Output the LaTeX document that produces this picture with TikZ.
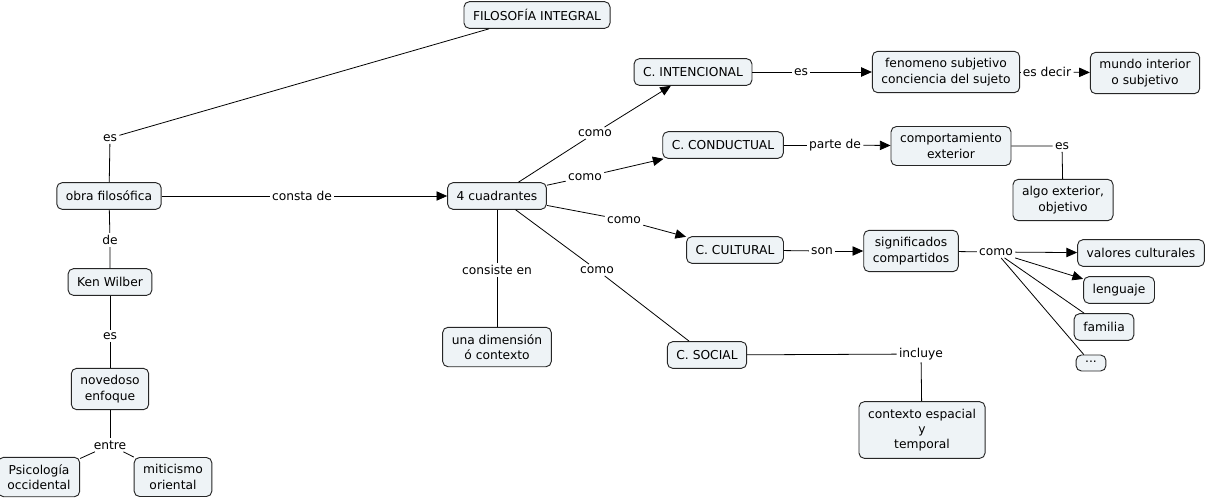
\documentclass[tikz,border=0pt]{standalone}
\usepackage{fontspec}
\setmainfont{DejaVu Sans}
\usetikzlibrary{arrows.meta}
\definecolor{conceptfill}{RGB}{238,243,246}

\begin{document}
\begin{tikzpicture}[x=0.75pt,y=-0.75pt,line width=0.6pt,
    every node/.style={font=\fontsize{9.2}{11.5}\selectfont},
    concept/.style={draw=black!85, fill=conceptfill, rounded corners=4pt,
      align=center, inner xsep=6.8pt, inner ysep=5.3pt, minimum height=20pt,
      line width=0.7pt},
    link/.style={fill=white, inner sep=1.5pt},
    arr/.style={-{Triangle[length=8pt,width=7pt]}}]
    \useasboundingbox (0,0) rectangle (1205,501);
    % concepts
    \node[concept] (filo) at (537,15) {FILOSOFÍA INTEGRAL};
    \node[concept] (obra) at (109,196) {obra filosófica};
    \node[concept] (ken) at (110,282) {Ken Wilber};
    \node[concept] (enfoque) at (110,389) {novedoso\\enfoque};
    \node[concept] (psico) at (39,477) {Psicología\\occidental};
    \node[concept] (mitic) at (173,477) {miticismo\\oriental};
    \node[concept] (cuad) at (497,196) {4 cuadrantes};
    \node[concept] (dimen) at (497,347) {una dimensión\\ó contexto};
    \node[concept] (inten) at (693,72) {C. INTENCIONAL};
    \node[concept] (fenom) at (946,72) {fenomeno subjetivo\\conciencia del sujeto};
    \node[concept] (mundo) at (1145,73) {mundo interior\\o subjetivo};
    \node[concept] (cond) at (723,145) {C. CONDUCTUAL};
    \node[concept] (comport) at (951,146) {comportamiento\\exterior};
    \node[concept] (algo) at (1063,200) {algo exterior,\\objetivo};
    \node[concept] (cult) at (735,250) {C. CULTURAL};
    \node[concept] (signif) at (911,251) {significados\\compartidos};
    \node[concept] (valores) at (1141,253) {valores culturales};
    \node[concept] (lengua) at (1119,290) {lenguaje};
    \node[concept] (familia) at (1104,327) {familia};
    \node[concept, minimum height=12pt, inner ysep=4pt] (etc) at (1091,363) {\raisebox{1.5pt}{...}};
    \node[concept] (social) at (707,355) {C. SOCIAL};
    \node[concept] (contexto) at (922,430) {contexto espacial\\y\\temporal};
    % linking phrases
    \node[link] (l-es1) at (110,138) {es};
    \node[link] (l-consta) at (302,196) {consta de};
    \node[link] (l-de) at (110,240) {de};
    \node[link] (l-es2) at (110,336) {es};
    \node[link] (l-entre) at (110,445) {entre};
    \node[link] (l-como1) at (595,133) {como};
    \node[link] (l-como2) at (585,177) {como};
    \node[link] (l-como3) at (624,220) {como};
    \node[link] (l-como4) at (597,270) {como};
    \node[link] (l-consiste) at (497,270) {consiste en};
    \node[link] (l-es3) at (801,72) {es};
    \node[link] (l-esdecir) at (1047,72) {es decir};
    \node[link] (l-parte) at (835,145) {parte de};
    \node[link] (l-es4) at (1062,146) {es};
    \node[link] (l-son) at (822,251) {son};
    \node[link] (l-como5) at (996,252) {como};
    \node[link] (l-incluye) at (921,354) {incluye};
    % connectors
    \draw (obra) -- (l-es1) -- (filo);
    \draw (obra) -- (l-consta);
    \draw[arr] (l-consta) -- (cuad);
    \draw (obra) -- (l-de) -- (ken);
    \draw (ken) -- (l-es2) -- (enfoque);
    \draw (enfoque) -- (l-entre);
    \draw (l-entre) -- (psico);
    \draw (l-entre) -- (mitic);
    \draw (cuad) -- (l-como1);
    \draw[arr] (l-como1) -- (inten);
    \draw (cuad) -- (l-como2);
    \draw[arr] (l-como2) -- (cond);
    \draw (cuad) -- (l-como3);
    \draw[arr] (l-como3) -- (cult);
    \draw (cuad) -- (l-como4) -- (social);
    \draw (cuad) -- (l-consiste) -- (dimen);
    \draw (inten) -- (l-es3);
    \draw[arr] (l-es3) -- (fenom);
    \draw (fenom) -- (l-esdecir);
    \draw[arr] (l-esdecir) -- (mundo);
    \draw (cond) -- (l-parte);
    \draw[arr] (l-parte) -- (comport);
    \draw (comport) -- (l-es4) -- (algo);
    \draw (cult) -- (l-son);
    \draw[arr] (l-son) -- (signif);
    \draw (signif) -- (l-como5);
    \draw[arr] (l-como5) -- (valores);
    \draw[arr] (l-como5) -- (lengua);
    \draw (l-como5) -- (familia);
    \draw (l-como5) -- (etc);
    \draw (social) -- (l-incluye) -- (contexto);
  \end{tikzpicture}
\end{document}
